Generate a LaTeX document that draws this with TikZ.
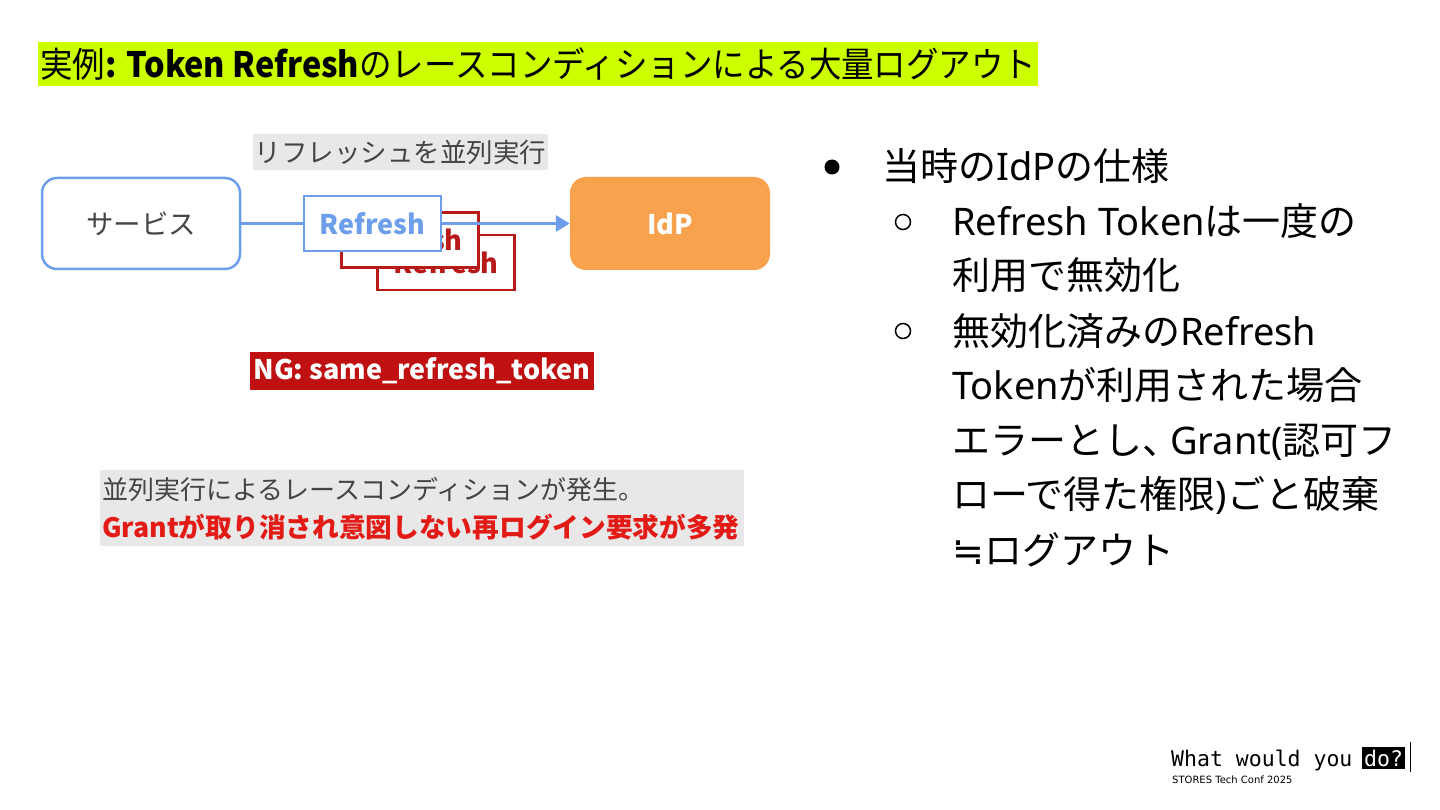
\documentclass[tikz,border=0pt]{standalone}
\usepackage{fontspec}
\setmainfont{Noto Sans CJK JP}
\newfontfamily\lat{Noto Sans}
\newfontfamily\symf{DejaVu Sans}
\newfontfamily\monof{DejaVu Sans Mono}
\newfontfamily\smallf{DejaVu Sans}
\usetikzlibrary{arrows.meta}
\definecolor{titlebg}{HTML}{CCFF00}
\definecolor{svcblue}{HTML}{6D9EEB}
\definecolor{idporange}{HTML}{F9A24E}
\definecolor{darkred}{HTML}{B81A1A}
\definecolor{ngred}{HTML}{BF1111}
\definecolor{brightred}{HTML}{E31B17}
\definecolor{lightgray}{HTML}{E8E8E8}
\definecolor{textgray}{HTML}{444444}
\tikzset{
  fs/.style={font=\fontsize{#1}{#1}\selectfont},
  refbox/.style={draw=#1, line width=2.5pt, fill=white, minimum width=137pt, minimum height=55pt, inner sep=0pt,
    text=#1, font=\fontsize{27}{27}\selectfont\bfseries},
  bodyline/.style={anchor=base west, inner sep=0pt, font=\fontsize{38}{38}\selectfont, text=black},
}
\begin{document}
\begin{tikzpicture}[x=1pt,y=-1pt]
\useasboundingbox (0,0) rectangle (1440,810);
\fill[white] (0,0) rectangle (1440,810);

% title
\node (title) [fill=titlebg, anchor=west, inner xsep=2pt, inner ysep=0pt, minimum height=44pt,
  font=\fontsize{34}{34}\selectfont] at (38,64)
  {\scalebox{0.955}[1.03]{実例\textbf{: Token Refresh}のレースコンディションによる大量ログアウト}};

% diagram
\node (par) [fill=lightgray, text=textgray, minimum width=295pt, minimum height=36pt, inner sep=0pt,
  fs=26.5] at (400.5,152) {リフレッシュを並列実行};
\node (svc) [draw=svcblue, line width=2.5pt, rounded corners=15pt, minimum width=198pt, minimum height=91pt,
  inner sep=0pt, text=textgray, fs=27.5] at (141,223.5) {サービス};
\node (idp) [fill=idporange, rounded corners=16pt, minimum width=200pt, minimum height=93pt, inner sep=0pt,
  text=white, font=\fontsize{27}{27}\selectfont\bfseries] at (670,223.5) {IdP};
\node (r2) [refbox=darkred] at (446,262.5) {Refresh};
\node (r1) [refbox=darkred] at (410,240) {Refresh};
\draw[svcblue, line width=3.5pt, -{Triangle[length=14pt,width=16pt]}] (svc.east) -- (idp.west);
\node (r0) [refbox=svcblue] at (372.5,223.5) {Refresh};

\node (ng) [fill=ngred, text=white, minimum width=344pt, minimum height=38pt, inner sep=0pt,
  font=\fontsize{27}{27}\selectfont\bfseries] at (422,371) {NG: same\_refresh\_token};

\node (note) [fill=lightgray, minimum width=644pt, minimum height=76pt, inner sep=0pt] at (422,508) {};
\node (note1) [anchor=west, inner sep=0pt, text=textgray, fs=26] at (102,490) {並列実行によるレースコンディションが発生。};
\node (note2) [anchor=west, inner sep=0pt, text=brightred, font=\fontsize{26.7}{26.7}\selectfont\bfseries] at (102,527)
  {Grantが取り消され意図しない再ログイン要求が多発};

% right bullets
\node (b0) [circle, fill=black, minimum size=15pt, inner sep=0pt] at (832,167) {};
\node (b1) [circle, draw=black, line width=1.5pt, minimum size=15pt, inner sep=0pt] at (903,222) {};
\node (b2) [circle, draw=black, line width=1.5pt, minimum size=15pt, inner sep=0pt] at (903,331) {};
\node (t0) [bodyline] at (882,181) {当時の{\lat IdP}の仕様};
\node (t1) [bodyline] at (952,236) {{\lat Refresh Token}は一度の};
\node (t2) [bodyline] at (952,290) {利用で無効化};
\node (t3) [bodyline] at (952,345) {無効化済みの{\lat Refresh}};
\node (t4) [bodyline] at (952,399) {{\lat Token}が利用された場合};
\node (t5) [bodyline] at (952,454) {エラーとし、\kern-10pt{\lat Grant(}認可フ};
\node (t6) [bodyline] at (952,508) {ローで得た権限{\lat )}ごと破棄};
\node (t7) [bodyline] at (952,564) {{\symf ≒}ログアウト};

% footer
\node (f1) [anchor=base west, inner sep=0pt, font=\monof\fontsize{21.5}{21.5}\selectfont] at (1171,766) {What would you};
\node (f2) [anchor=base west, inner xsep=2pt, inner ysep=3pt, fill=black, text=white, font=\monof\fontsize{21.5}{21.5}\selectfont] at (1362,766) {do?};
\coordinate (c1) at (1410,742);
\coordinate (c2) at (1410,772);
\draw[line width=1pt] (c1) -- (c2);
\node (f3) [anchor=base west, inner sep=0pt, font=\smallf\fontsize{10}{10}\selectfont] at (1172,783) {STORES Tech Conf 2025};
\end{tikzpicture}
\end{document}
